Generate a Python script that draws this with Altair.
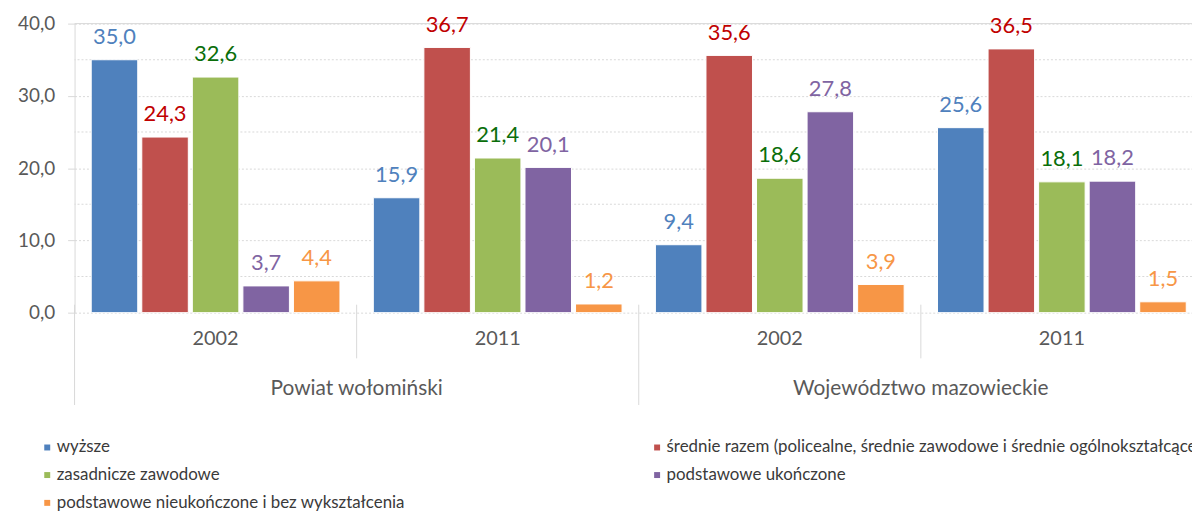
import altair as alt
import pandas as pd

series = [
    "wyższe",
    "średnie razem (policealne, średnie zawodowe i średnie ogólnokształcące)",
    "zasadnicze zawodowe",
    "podstawowe ukończone",
    "podstawowe nieukończone i bez wykształcenia",
]
bar_colors = ["#4F81BD", "#C0504D", "#9BBB59", "#8064A2", "#F79646"]
label_colors = ["#4F81BD", "#C00000", "#0A6E0A", "#8064A2", "#F79646"]
# legend is filled column by column: first column holds entries 0, 2, 4
legend_order = [0, 2, 4, 1, 3]

regions = ["Powiat wołomiński", "Powiat wołomiński",
           "Województwo mazowieckie", "Województwo mazowieckie"]
years = ["2002", "2011", "2002", "2011"]
first_in_region = [True, False, True, False]

pw_2002 = [35.0, 24.3, 32.6, 3.7, 4.4]
pw_2011 = [15.9, 36.7, 21.4, 20.1, 1.2]
wm_2002 = [9.4, 35.6, 18.6, 27.8, 3.9]
wm_2011 = [25.6, 36.5, 18.1, 18.2, 1.5]
values = [pw_2002, pw_2011, wm_2002, wm_2011]

y_ticks = [0, 10, 20, 30, 40]
minor_ticks = [5, 15, 25, 35]
top_line = [40]

rows = []
for r, yr, vals in zip(regions, years, values):
    for s, v, lc in zip(series, vals, label_colors):
        rows.append({"grp": f"{r}|{yr}", "region": r, "year": yr,
                     "series": s, "value": v, "lcolor": lc})
df = pd.DataFrame(rows)
grp_order = [f"{r}|{yr}" for r, yr in zip(regions, years)]
groups = pd.DataFrame({"grp": grp_order, "region": regions, "year": years,
                       "first": first_in_region})

leg_domain = [series[i] for i in legend_order]
leg_range = [bar_colors[i] for i in legend_order]

FONT = "Lato"
GRID = "#d9d9d9"
TXT = "#595959"

xscale = alt.Scale(domain=grp_order, range=[0, 1136], paddingInner=0, paddingOuter=0)
x_main = alt.X("grp:N", scale=xscale, sort=grp_order,
               axis=alt.Axis(labels=False, ticks=False, title=None, grid=False,
                             domainColor=GRID, domainWidth=1))
x_off = alt.XOffset("series:N", sort=series,
                    scale=alt.Scale(domain=series, paddingInner=0.08, paddingOuter=0.33))
yscale = alt.Scale(domain=[0, 40], nice=False, zero=True)
y_axis = alt.Axis(values=y_ticks, title=None,
                  labelExpr="replace(format(datum.value, '.1f'), '.', ',')",
                  grid=True, gridColor=GRID, gridDash=[2, 2], gridWidth=1,
                  tickSize=7, tickColor=GRID, domainColor=GRID,
                  labelFont=FONT, labelFontSize=19, labelColor=TXT, labelPadding=13)

base = alt.Chart(df)

bars = base.mark_bar(stroke="white", strokeWidth=1).encode(
    x=x_main,
    xOffset=x_off,
    y=alt.Y("value:Q", scale=yscale, axis=y_axis),
    color=alt.Color("series:N",
                    scale=alt.Scale(domain=leg_domain, range=leg_range),
                    legend=alt.Legend(orient="none", legendX=-36, legendY=418,
                                      columns=2, title=None, symbolType="square",
                                      symbolSize=36, symbolStrokeWidth=0,
                                      labelFont=FONT, labelFontSize=17,
                                      labelColor="#3a3a3a", labelOffset=1,
                                      columnPadding=245, rowPadding=10,
                                      labelLimit=1000)),
)

labels = base.transform_calculate(
    label="replace(format(datum.value, '.1f'), '.', ',')"
).mark_text(baseline="alphabetic", dy=-16, font=FONT, fontSize=22).encode(
    x=x_main,
    xOffset=x_off,
    y=alt.Y("value:Q", scale=yscale),
    text="label:N",
    fill=alt.Fill("lcolor:N", scale=None),
)

minor = alt.Chart(pd.DataFrame({"v": minor_ticks})).mark_rule(
    color=GRID, strokeDash=[2, 2], strokeWidth=1
).encode(y=alt.Y("v:Q", scale=yscale))

top = alt.Chart(pd.DataFrame({"v": top_line})).mark_rule(
    color=GRID, strokeWidth=1
).encode(y=alt.Y("v:Q", scale=yscale))

gbase = alt.Chart(groups)
sep_long = gbase.transform_filter("datum.first").mark_rule(color=GRID, strokeWidth=1).encode(
    x=alt.X("grp:N", scale=xscale, sort=grp_order, bandPosition=0, axis=None),
    y=alt.value(283), y2=alt.value(384),
)
sep_short = gbase.transform_filter("!datum.first").mark_rule(color=GRID, strokeWidth=1).encode(
    x=alt.X("grp:N", scale=xscale, sort=grp_order, bandPosition=0, axis=None),
    y=alt.value(283), y2=alt.value(337),
)
year_txt = gbase.mark_text(font=FONT, fontSize=20, color=TXT, baseline="middle").encode(
    x=alt.X("grp:N", scale=xscale, sort=grp_order, bandPosition=0.5, axis=None),
    y=alt.value(318),
    text="year:N",
)
region_txt = gbase.transform_filter("datum.first").mark_text(
    font=FONT, fontSize=21, color=TXT, baseline="middle"
).encode(
    x=alt.X("grp:N", scale=xscale, sort=grp_order, bandPosition=1, axis=None),
    y=alt.value(368),
    text="region:N",
)

chart = alt.layer(
    minor, top, bars, labels, sep_long, sep_short, year_txt, region_txt
).properties(
    width=1125, height=291,
    padding={"left": 67, "top": 14, "right": 0, "bottom": 201},
    autosize=alt.AutoSizeParams(type="none"),
).configure_view(stroke=None)

chart.save("out.html", embed_options={"renderer": "svg", "actions": False})
